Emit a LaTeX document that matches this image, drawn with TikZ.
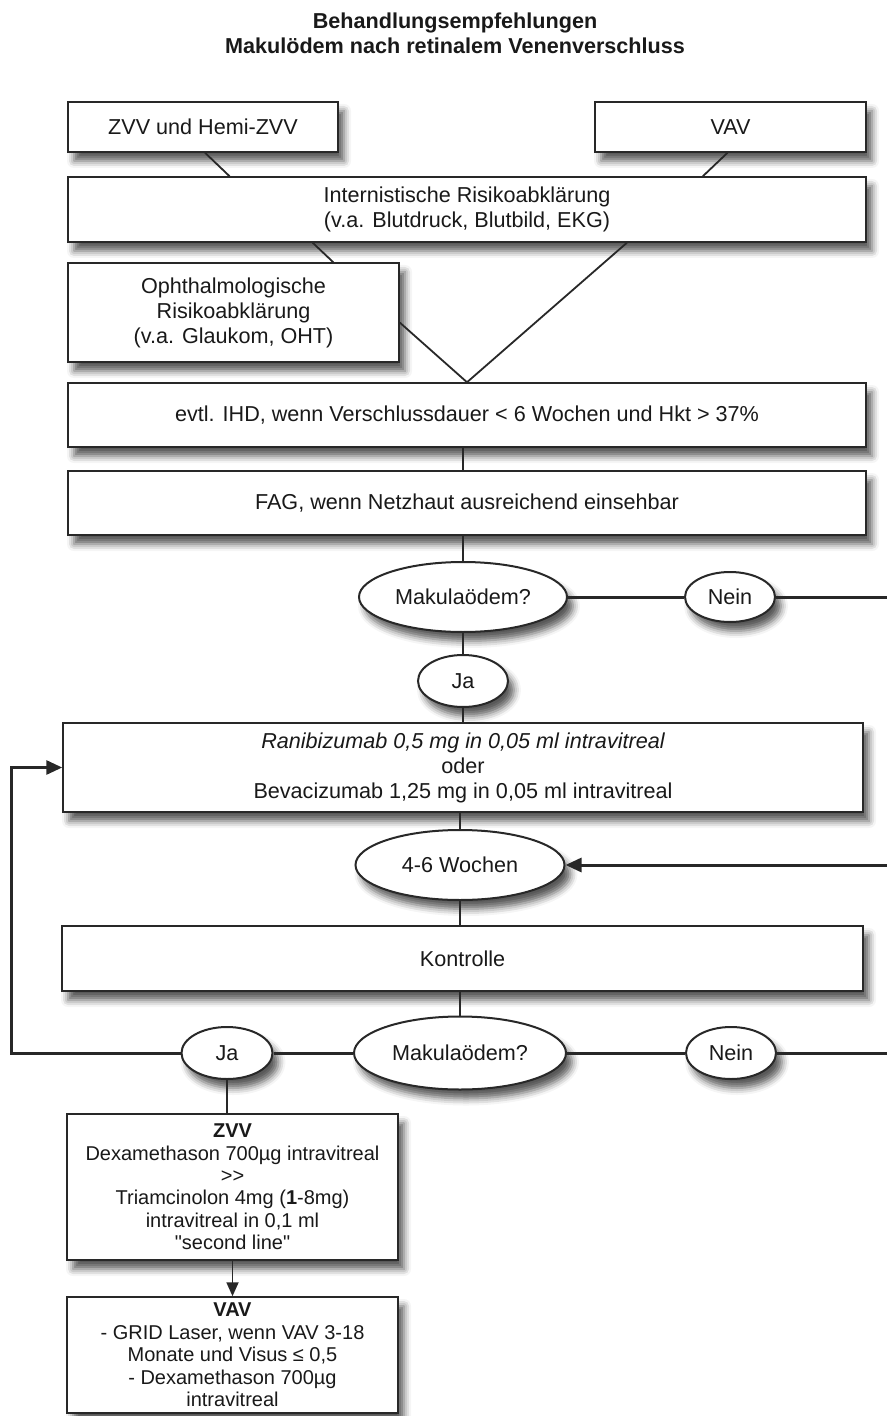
\documentclass[tikz,border=0pt]{standalone}
\usepackage{fontspec}
\setmainfont{Liberation Sans}[Ligatures=TeXOff]
\usetikzlibrary{calc,shapes.geometric,shadows.blur,arrows.meta}
\definecolor{lineGray}{RGB}{40,40,40}
\definecolor{textGray}{RGB}{25,25,25}
\newcommand{\BodyFont}{\fontsize{10.8}{12.5}\selectfont}
\newcommand{\SmallFont}{\fontsize{10}{11.2}\selectfont}
\tikzset{
  flowbox/.style={draw=lineGray, line width=0.75pt, fill=white, align=center, inner sep=0pt,
    text=textGray, font=\BodyFont,
    blur shadow={shadow xshift=3pt, shadow yshift=-4.5pt, shadow blur radius=3.5pt, shadow opacity=65}},
  flowoval/.style={flowbox, ellipse, line width=1pt},
  thinline/.style={draw=lineGray, line width=0.9pt},
  thickline/.style={draw=lineGray, line width=1.5pt},
}

\begin{document}
\begin{tikzpicture}[x=0.5pt,y=-0.5pt]
\useasboundingbox (0,0) rectangle (887,1416);

% Titel
\node[align=center, text=textGray, font=\bfseries\BodyFont] (titel) at (455,33)
  {Behandlungsempfehlungen\\Makulödem nach retinalem Venenverschluss};

% obere Kaesten
\node[flowbox, minimum width=135pt, minimum height=25pt] (zvv) at (203,127) {ZVV und Hemi-ZVV};
\node[flowbox, minimum width=135.5pt, minimum height=25pt] (vav) at (730.5,127) {VAV};
\node[flowbox, minimum width=399pt, minimum height=32.5pt] (intern) at (467,209.5)
  {Internistische Risikoabklärung\\(v.a. Blutdruck, Blutbild, EKG)};
\node[flowbox, minimum width=165.5pt, minimum height=49.5pt] (ophth) at (233.5,312.5)
  {Ophthalmologische\\Risikoabklärung\\(v.a. Glaukom, OHT)};
\node[flowbox, minimum width=399pt, minimum height=32pt] (ihd) at (467,415)
  {evtl. IHD, wenn Verschlussdauer < 6 Wochen und Hkt > 37\%};
\node[flowbox, minimum width=399pt, minimum height=32pt] (fag) at (467,503)
  {FAG, wenn Netzhaut ausreichend einsehbar};

% erste Abfrage
\node[flowoval, minimum width=104pt, minimum height=35pt] (mak1) at (463,597) {Makulaödem?};
\node[flowoval, minimum width=45pt, minimum height=25pt] (nein1) at (730,597) {Nein};
\node[flowoval, minimum width=45pt, minimum height=26pt] (ja1) at (463,681) {Ja};

% Therapie
\node[flowbox, minimum width=400pt, minimum height=44.5pt] (rani) at (463,767.5)
  {\itshape Ranibizumab 0,5 mg in 0,05 ml intravitreal\\oder\\Bevacizumab 1,25 mg in 0,05 ml intravitreal};
\node[flowoval, minimum width=104.5pt, minimum height=35pt] (woch) at (460,865) {4-6 Wochen};
\node[flowbox, minimum width=400.5pt, minimum height=32.5pt] (kontr) at (462.5,958.5) {Kontrolle};

% zweite Abfrage
\node[flowoval, minimum width=106pt, minimum height=36.5pt] (mak2) at (460,1053) {Makulaödem?};
\node[flowoval, minimum width=45.5pt, minimum height=26pt] (ja2) at (227,1053) {Ja};
\node[flowoval, minimum width=45pt, minimum height=26pt] (nein2) at (731,1053) {Nein};

% untere Kaesten
\node[flowbox, font=\SmallFont, minimum width=165.5pt, minimum height=73pt] (zvvb) at (232.5,1187)
  {{\bfseries ZVV}\\Dexamethason 700µg intravitreal\\>{}>\\Triamcinolon 4mg ({\bfseries 1}-8mg)\\intravitreal in 0,1 ml\\"second line"};
\node[flowbox, font=\SmallFont, minimum width=165.5pt, minimum height=58pt] (vavb) at (232.5,1355)
  {{\bfseries VAV}\\- GRID Laser, wenn VAV 3-18\\Monate und Visus ≤ 0,5\\- Dexamethason 700µg\\intravitreal};

% Randpunkte
\coordinate (r1) at (887,597);
\coordinate (r2) at (887,865);
\coordinate (r3) at (887,1053);
\coordinate (l1) at (11,1053);

% Verbindungen oben
\draw[thinline] ($(zvv.south)+(2,0)$) -- ($(intern.north west)!0.203!(intern.north east)$);
\draw[thinline] ($(vav.south)+(-3,0)$) -- ($(intern.north west)!0.795!(intern.north east)$);
\draw[thinline] ($(intern.south west)!0.307!(intern.south east)$) -- ($(ophth.north west)!0.8!(ophth.north east)$);
\draw[thinline] ($(intern.south west)!0.70!(intern.south east)$) -- (ihd.north);
\draw[thinline] ($(ophth.north east)!0.6!(ophth.south east)$) -- (ihd.north);
\draw[thinline] (ihd.south -| mak1) -- (fag.north -| mak1);
\draw[thinline] (fag.south -| mak1) -- (mak1);
\draw[thinline] (mak1) -- (ja1);
\draw[thinline] (ja1) -- (ja1 |- rani.north);
\draw[thickline] (mak1) -- (nein1);
\draw[thickline] (nein1) -- (r1);

% Verbindungen unten
\draw[thinline] (rani.south -| woch) -- (woch);
\draw[thinline] (woch) -- (woch |- kontr.north);
\draw[thinline] (kontr.south -| mak2) -- (mak2);
\draw[thickline, -{Triangle[length=8pt,width=7pt]}] (r2) -- (woch);
\draw[thickline] (mak2) -- (nein2);
\draw[thickline] (nein2) -- (r3);
\draw[thickline] (mak2) -- (ja2);
\draw[thickline, -{Triangle[length=8pt,width=7pt]}] (ja2) -- (l1) |- (rani.west);
\draw[thinline] (ja2) -- (ja2 |- zvvb.north);
\draw[thinline, -{Triangle[length=7pt,width=6pt]}] (zvvb) -- (vavb);
\end{tikzpicture}
\end{document}
